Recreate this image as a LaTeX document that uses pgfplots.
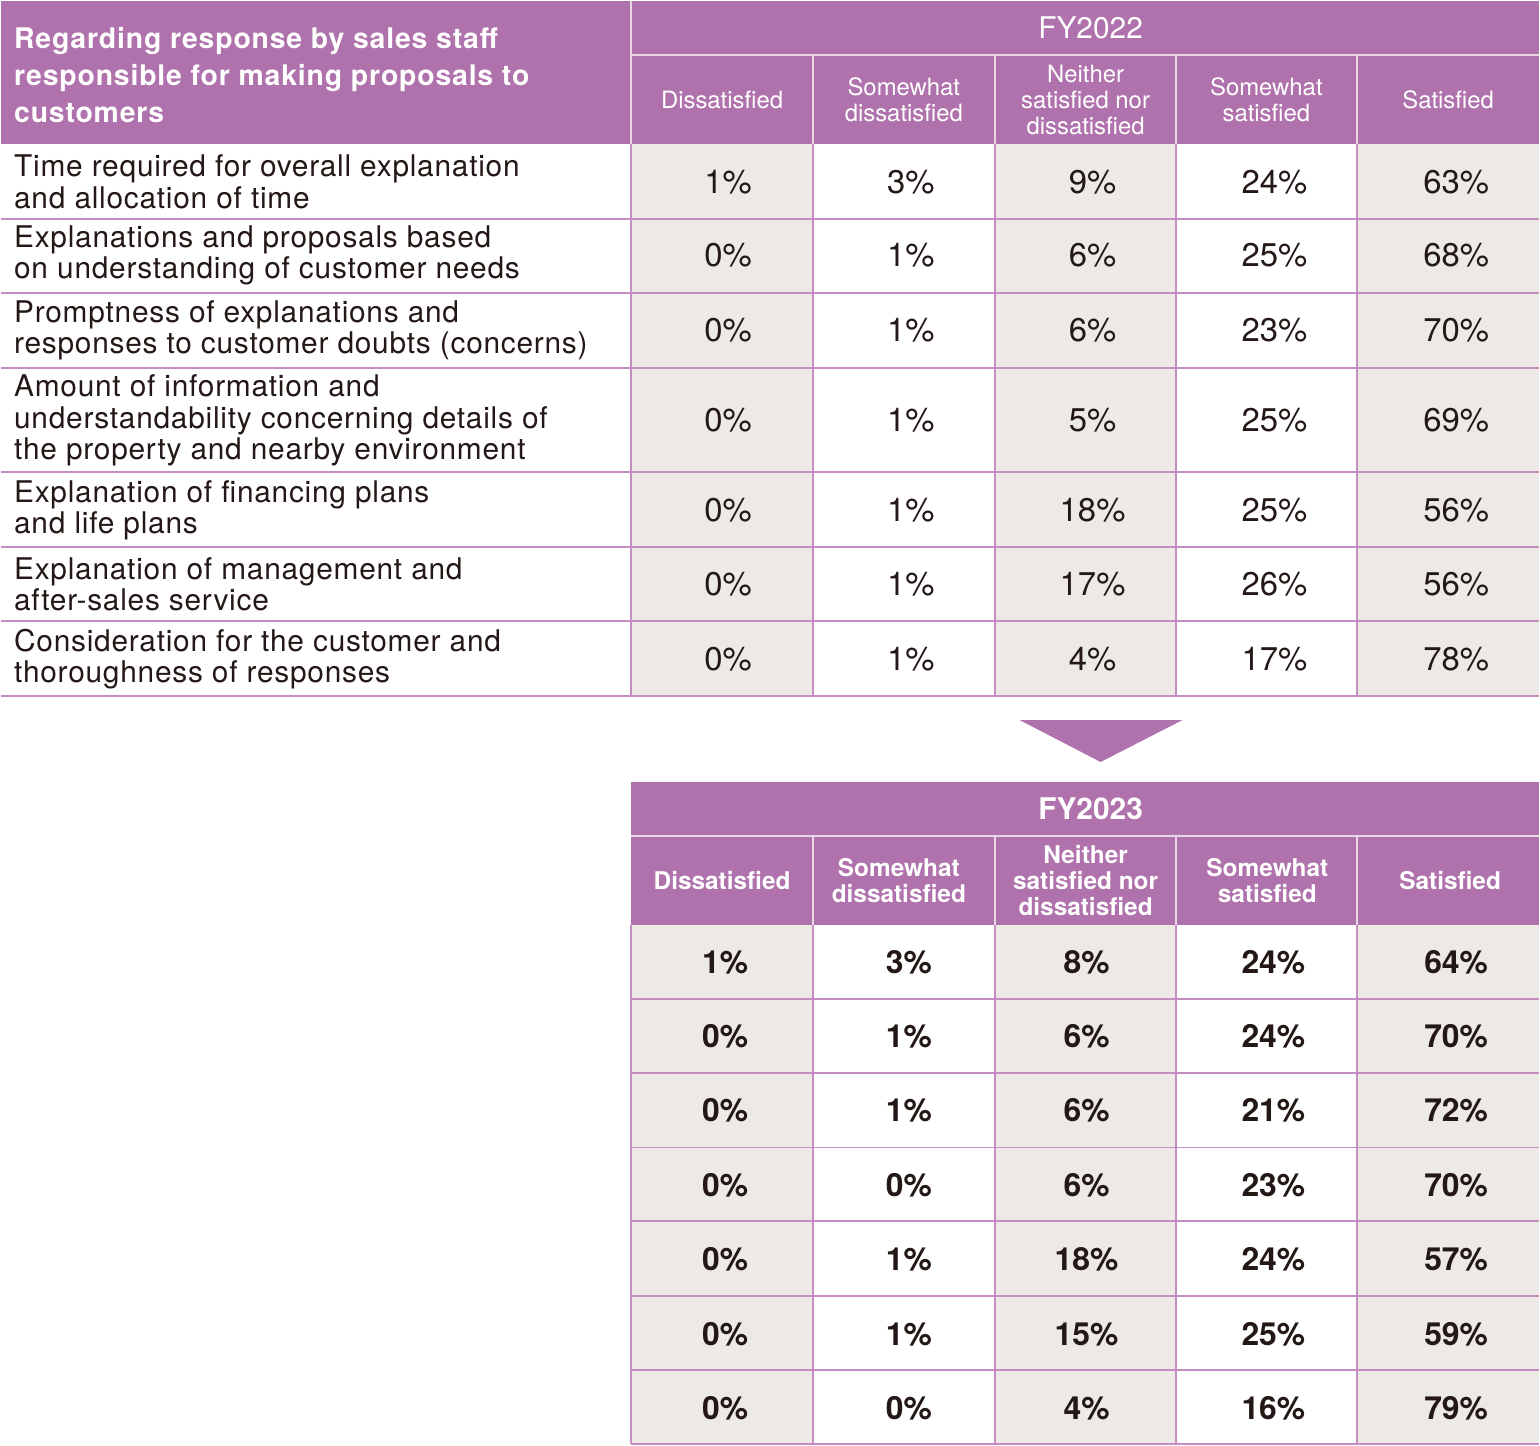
\documentclass[border=0pt]{standalone}
\usepackage{pgfplots}
\pgfplotsset{compat=1.18}
\usepackage{pgfplotstable}
\usepackage{fontspec}
\setmainfont{TeX Gyre Heros}
\newfontfamily\lsfont[LetterSpace=2.5]{TeX Gyre Heros}
\newfontfamily\hdfont[LetterSpace=3]{TeX Gyre Heros}
\definecolor{hdr}{HTML}{B072AC}
\definecolor{cellgray}{HTML}{EDEAE6}
\definecolor{gridc}{HTML}{C58DC1}
\definecolor{hline}{HTML}{E8D8E6}
\definecolor{ink}{HTML}{231815}

% FY2022 values: x = column centre, y = row centre, v = percentage
\pgfplotstableread{
x y v
728 181 1
911 181 3
1093 181 9
1275 181 24
1457 181 63
728 255 0
911 255 1
1093 255 6
1275 255 25
1457 255 68
728 330 0
911 330 1
1093 330 6
1275 330 23
1457 330 70
728 420 0
911 420 1
1093 420 5
1275 420 25
1457 420 69
728 510 0
911 510 1
1093 510 18
1275 510 25
1457 510 56
728 584 0
911 584 1
1093 584 17
1275 584 26
1457 584 56
728 659 0
911 659 1
1093 659 4
1275 659 17
1457 659 78
}\fyA

% FY2023 values
\pgfplotstableread{
x y v
725 963 1
909 963 3
1087 963 8
1274 963 24
1457 963 64
725 1037 0
909 1037 1
1087 1037 6
1274 1037 24
1457 1037 70
725 1111 0
909 1111 1
1087 1111 6
1274 1111 21
1457 1111 72
725 1186 0
909 1186 0
1087 1186 6
1274 1186 23
1457 1186 70
725 1260 0
909 1260 1
1087 1260 18
1274 1260 24
1457 1260 57
725 1335 0
909 1335 1
1087 1335 15
1274 1335 25
1457 1335 59
725 1409 0
909 1409 0
1087 1409 4
1274 1409 16
1457 1409 79
}\fyB

\tikzset{
  hl/.style={hline, line width=2bp},
  gl/.style={gridc, line width=2bp},
  colhA/.style={text=white, align=center, font=\fontsize{24}{26.5}\selectfont, inner sep=0pt},
  colhB/.style={text=white, align=center, font=\fontsize{24.5}{26}\selectfont\bfseries, inner sep=0pt},
  rowl/.style={anchor=west, text=ink, align=left, font=\fontsize{30}{31.5}\lsfont, inner sep=0pt},
}

\begin{document}
\begin{tikzpicture}
\begin{axis}[
  scale only axis, width=1540bp, height=1450bp,
  xmin=0, xmax=1540, ymin=0, ymax=1450, y dir=reverse,
  axis lines=none, clip=false,
  /pgf/number format/assume math mode=true,
]
% ---------- FY2022 header ----------
\fill[hdr] (axis cs:0,0) rectangle (axis cs:1540,143);
\draw[hl] (axis cs:631,0) -- (axis cs:631,143);
\draw[hl] (axis cs:631,54) -- (axis cs:1540,54);
\pgfplotsinvokeforeach{813,995,1177,1358}{
  \draw[hl] (axis cs:#1,54) -- (axis cs:#1,143);
}
% ---------- FY2022 body ----------
\fill[cellgray] (axis cs:631,143) rectangle (axis cs:813,696);
\fill[cellgray] (axis cs:995,143) rectangle (axis cs:1177,696);
\fill[cellgray] (axis cs:1358,143) rectangle (axis cs:1540,696);
\pgfplotsinvokeforeach{218,292,367,472,547,621,696}{
  \draw[gl] (axis cs:0,#1) -- (axis cs:1540,#1);
}
\pgfplotsinvokeforeach{631,813,995,1177,1358}{
  \draw[gl] (axis cs:#1,143) -- (axis cs:#1,696);
}
% ---------- arrow ----------
\fill[hdr] (axis cs:1020,720) -- (axis cs:1183,720) -- (axis cs:1101,762) -- cycle;
% ---------- FY2023 header ----------
\fill[hdr] (axis cs:631,782) rectangle (axis cs:1540,925);
\draw[hl] (axis cs:631,836) -- (axis cs:1540,836);
\pgfplotsinvokeforeach{813,995,1177,1358}{
  \draw[hl] (axis cs:#1,836) -- (axis cs:#1,925);
}
% ---------- FY2023 body ----------
\fill[cellgray] (axis cs:631,925) rectangle (axis cs:813,1445);
\fill[cellgray] (axis cs:995,925) rectangle (axis cs:1177,1445);
\fill[cellgray] (axis cs:1358,925) rectangle (axis cs:1540,1445);
\pgfplotsinvokeforeach{999,1073,1148,1222,1297,1371,1445}{
  \draw[gl] (axis cs:631,#1) -- (axis cs:1540,#1);
}
\pgfplotsinvokeforeach{631,813,995,1177,1358}{
  \draw[gl] (axis cs:#1,925) -- (axis cs:#1,1445);
}

% ---------- header texts ----------
\node[anchor=west, text=white, align=left, font=\fontsize{28.5}{37.5}\hdfont\bfseries, inner sep=0pt]
  at (axis cs:13,74) {Regarding response by sales staff\\responsible for making proposals to\\customers};
\node[text=white, font=\fontsize{30}{30}\selectfont] at (axis cs:1091,27) {FY2022};
\node[text=white, font=\fontsize{30}{30}\selectfont\bfseries] at (axis cs:1091,809) {FY2023};

\node[colhA] at (axis cs:722,99) {Dissatisfied};
\node[colhA] at (axis cs:904,99) {Somewhat\\dissatisfied};
\node[colhA] at (axis cs:1086,99) {Neither\\satisfied nor\\dissatisfied};
\node[colhA] at (axis cs:1267,99) {Somewhat\\satisfied};
\node[colhA] at (axis cs:1449,99) {Satisfied};

\node[colhB] at (axis cs:722,881) {Dissatisfied};
\node[colhB] at (axis cs:899,881) {Somewhat\\dissatisfied};
\node[colhB] at (axis cs:1086,881) {Neither\\satisfied nor\\dissatisfied};
\node[colhB] at (axis cs:1268,881) {Somewhat\\satisfied};
\node[colhB] at (axis cs:1451,881) {Satisfied};

% ---------- row labels ----------
\node[rowl] at (axis cs:13,181) {Time required for overall explanation\\and allocation of time};
\node[rowl] at (axis cs:13,255) {Explanations and proposals based\\on understanding of customer needs};
\node[rowl] at (axis cs:13,330) {Promptness of explanations and\\responses to customer doubts (concerns)};
\node[rowl] at (axis cs:13,420) {Amount of information and\\understandability concerning details of\\the property and nearby environment};
\node[rowl] at (axis cs:13,510) {Explanation of financing plans\\and life plans};
\node[rowl] at (axis cs:13,584) {Explanation of management and\\after-sales service};
\node[rowl] at (axis cs:13,659) {Consideration for the customer and\\thoroughness of responses};

% ---------- values ----------
\addplot[draw=none, mark=none, point meta=explicit,
  nodes near coords={\pgfmathprintnumber{\pgfplotspointmeta}\%},
  nodes near coords align=center,
  every node near coord/.append style={text=ink, font=\fontsize{33}{33}\selectfont, inner sep=0pt}]
  table[x=x, y=y, meta=v] {\fyA};
\addplot[draw=none, mark=none, point meta=explicit,
  nodes near coords={\pgfmathprintnumber{\pgfplotspointmeta}\%},
  nodes near coords align=center,
  every node near coord/.append style={text=ink, font=\fontsize{32}{32}\selectfont\bfseries, inner sep=0pt}]
  table[x=x, y=y, meta=v] {\fyB};
\end{axis}
\end{tikzpicture}
\end{document}
